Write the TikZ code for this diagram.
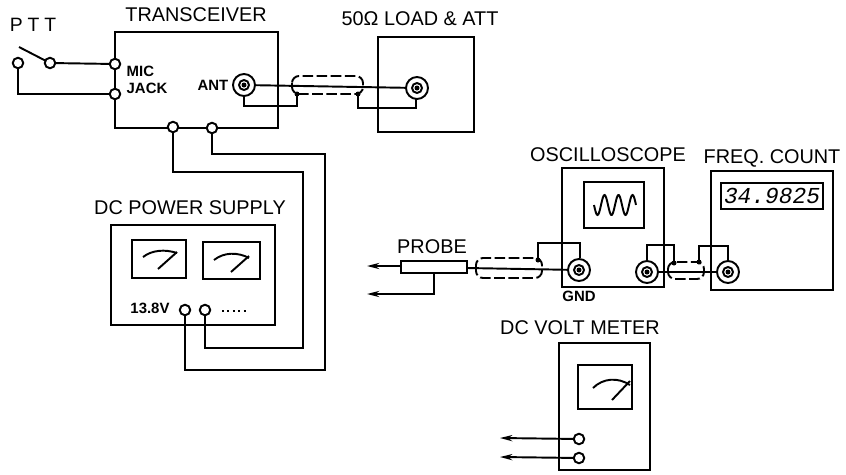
\documentclass[tikz,border=0pt]{standalone}
\usepackage{fontspec}
\setmainfont{Liberation Sans}
\newfontfamily\spacedfont[LetterSpace=25]{Liberation Sans}
\newfontfamily\digitfont{Liberation Mono}
\usetikzlibrary{arrows.meta}
\tikzset{
  title/.style={font=\fontsize{11.3}{13}\selectfont, inner sep=0pt},
  small/.style={font=\fontsize{8.5}{10}\selectfont\bfseries, inner sep=0pt, align=left},
  terminal/.style={circle, draw, fill=white, inner sep=0pt, minimum size=0.21cm},
  coaxouter/.style={circle, draw, fill=white, inner sep=0pt, minimum size=0.44cm},
  coaxinner/.style={circle, draw, fill=white, inner sep=0pt, minimum size=0.2cm},
  tap/.style={circle, fill, inner sep=0pt, minimum size=0.1cm},
  shield/.style={dash pattern=on 6pt off 2pt, rounded corners=4pt},
  lead/.style={-{Stealth[length=7pt,width=3.5pt]}}
}
\begin{document}
\begin{tikzpicture}[line width=1.1pt, x=0.02cm, y=-0.02cm]
  \useasboundingbox (0,0) rectangle (846,474);
  % boxes
  \draw (115,32) rectangle (278,128);
  \draw (378,37) rectangle (474,132);
  \draw (111,225) rectangle (275,325);
  \draw (132,240) rectangle (186,278);
  \draw (203,242) rectangle (260,279);
  \draw (562,168) rectangle (664,287);
  \draw (584,182) rectangle (644,228);
  \draw (711,171) rectangle (833,290);
  \draw (721,183) rectangle (823,209);
  \draw (559,343) rectangle (650,470);
  \draw (578,365) rectangle (632,409);
  % meters and scope trace
  \draw (143,257) .. controls (152,250) and (165,249) .. (177,253);
  \draw (158,269) -- (177,252);
  \draw (214,260) .. controls (224,252) and (238,252) .. (249,258);
  \draw (231,272) -- (249,256);
  \draw (593,388) .. controls (603,378) and (618,377) .. (630,385);
  \draw (612,400) -- (630,381);
  \draw[domain=0:42, samples=60, smooth] plot ({594+\x}, {205+10*sin(25.7*\x)});
  % terminals
  \coordinate (swtip) at (19,47);
  \coordinate (pttl) at (18,63);
  \coordinate (pttr) at (50,63);
  \coordinate (micu) at (115,64);
  \coordinate (micl) at (115,94);
  \coordinate (dca) at (173,127);
  \coordinate (dcb) at (212,128);
  \coordinate (psa) at (185,310);
  \coordinate (psb) at (205,310);
  \coordinate (ant) at (244,85);
  \coordinate (load) at (417,88);
  \coordinate (chin) at (579,270);
  \coordinate (chout) at (647,272);
  \coordinate (count) at (728,272);
  % shields
  \draw[shield] (292,76) rectangle (363,94);
  \draw[shield] (476,258) rectangle (542,278);
  \draw[shield] (668,262) rectangle (704,279);
  % wires
  \draw (swtip) -- (pttr);
  \draw (pttr) -- (micu);
  \draw (pttl) |- (micl);
  \draw (dca) |- (303,172) |- (205,348) -- (psb);
  \draw (dcb) |- (325,154) |- (185,370) -- (psa);
  \draw (ant) -- (load);
  \draw (244,96) |- (297,106) -- (297,94);
  \draw (358,94) |- (416,108) -- (416,99);
  \draw (chin) -- (467,268);
  \draw (538,260) |- (580,243) -- (580,258);
  \draw (chout) -- (count);
  \draw (647,260) |- (674,245) -- (674,263);
  \draw (699,262) |- (728,246) -- (728,260);
  % probe
  \node[draw, fill=white, minimum width=1.32cm, minimum height=0.24cm, inner sep=0pt] (probe) at (434,267) {};
  \coordinate (tipa) at (367,266);
  \coordinate (tipb) at (367,294);
  \draw[lead] (probe.west |- tipa) -- (tipa);
  \draw[lead] (probe.south) |- (tipb);
  % volt meter
  \node[terminal] (vma) at (579,439) {};
  \node[terminal] (vmb) at (579,458) {};
  \coordinate (tipc) at (500,438);
  \coordinate (tipd) at (500,457);
  \draw[lead] (vma) -- (tipc);
  \draw[lead] (vmb) -- (tipd);
  % connectors on top
  \foreach \name in {pttl, pttr, micu, micl, dca, dcb, psa, psb}
    \node[terminal] (t\name) at (\name) {};
  \foreach \name in {ant, load, chin, chout, count} {
    \node[coaxouter] (o\name) at (\name) {};
    \node[coaxinner] (i\name) at (\name) {};
  }
  \foreach \name in {ant, load, chin, chout, count}
    \node[tap] (c\name) at (i\name.center) {};
  \node[tap] (ta) at (297,94) {};
  \node[tap] (tb) at (358,94) {};
  \node[tap] (tc) at (538,260) {};
  \node[tap] (td) at (674,263) {};
  \node[tap] (te) at (699,262) {};
  % labels
  \node[title, font=\fontsize{11}{13}\selectfont\spacedfont] (lptt) at (33,25) {PTT};
  \node[title] (lxcvr) at (196,15) {TRANSCEIVER};
  \node[title] (lload) at (420,19) {50Ω LOAD \& ATT};
  \node[title] (lpsu) at (190,208) {DC POWER SUPPLY};
  \node[title] (lscope) at (608,155) {OSCILLOSCOPE};
  \node[title] (lfreq) at (772,158) {FREQ. COUNT};
  \node[title] (lvolt) at (580,328) {DC VOLT METER};
  \node[title] (lprobe) at (432,247) {PROBE};
  \node[small] (lmic) at (147,80) {MIC\\JACK};
  \node[small] (lant) at (213,85) {ANT};
  \node[small] (lgnd) at (579,296) {GND};
  \node[small] (lvolts) at (150,308) {13.8V};
  \node[font=\fontsize{13}{15}\selectfont\digitfont\itshape, inner sep=0pt] (ldigits) at (772,196) {34.9825};
  \draw[dotted] (222,311) -- (247,311);
\end{tikzpicture}
\end{document}
